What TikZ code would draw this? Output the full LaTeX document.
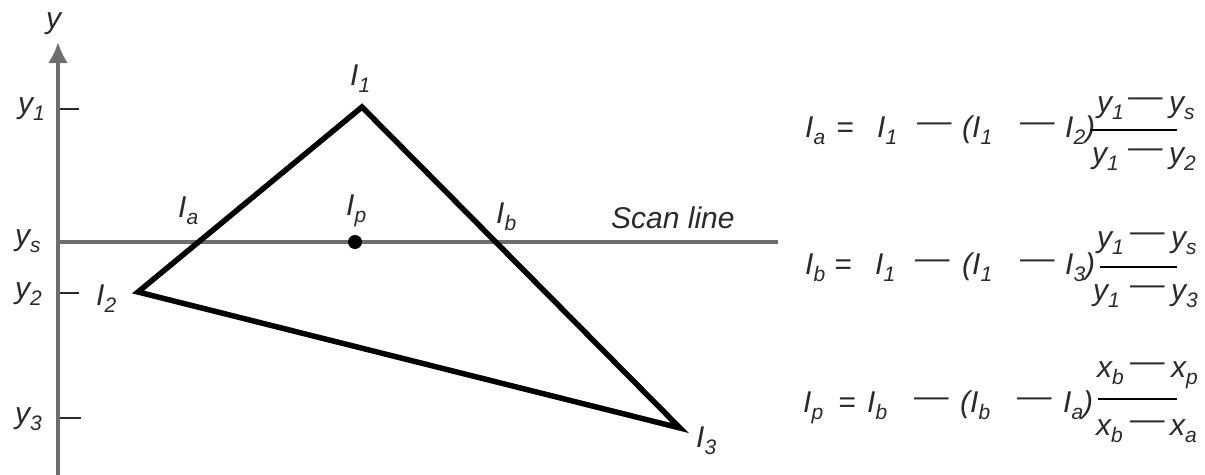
\documentclass[tikz,border=0pt]{standalone}
\usepackage{fontspec}
\setmainfont{Liberation Sans}
\usetikzlibrary{arrows.meta}
\definecolor{axgray}{HTML}{6E6E6E}
\definecolor{txt}{HTML}{2A2A2A}
\newcommand\sbs[1]{\raisebox{-7pt}{\fontsize{21}{21}\selectfont #1}}
\newcommand\md{\raisebox{6pt}{\scalebox{1.15}[1]{—}}}
\tikzset{
  lab/.style={font=\fontsize{30}{32}\selectfont\itshape, text=txt, inner sep=0pt, anchor=base west},
  axisline/.style={draw=axgray, line width=4.5pt},
  tick/.style={draw=txt, line width=2.6pt},
  tri/.style={draw=black, line width=5.5pt, line join=miter},
  fracline/.style={draw=black, line width=2.6pt}
}
\begin{document}
\begin{tikzpicture}[x=1pt,y=-1pt]
\path[use as bounding box] (0,0) rectangle (1205,474);
% axis
\coordinate (axb) at (58,480);
\coordinate (axt) at (58,42);
\draw[axisline, -{Latex[length=21pt,width=20pt]}] (axb) -- (axt);
\node[lab] (ylab) at (46,28) {y};
% ticks
\coordinate (t1a) at (60,109); \coordinate (t1b) at (79,109);
\coordinate (t2a) at (60,293); \coordinate (t2b) at (79,293);
\coordinate (t3a) at (60,418); \coordinate (t3b) at (81,418);
\draw[tick] (t1a) -- (t1b);
\draw[tick] (t2a) -- (t2b);
\draw[tick] (t3a) -- (t3b);
\node[lab] (ly1) at (18,113) {y\sbs{1}};
\node[lab] (lys) at (15,245) {y\sbs{s}};
\node[lab] (ly2) at (15,298) {y\sbs{2}};
\node[lab] (ly3) at (15,423) {y\sbs{3}};
% scan line
\coordinate (s0) at (58,242);
\coordinate (s1) at (778,242);
\draw[axisline] (s0) -- (s1);
\node[lab] (scan) at (611,228) {Scan line};
% triangle
\coordinate (v1) at (362,107);
\coordinate (v2) at (138,292);
\coordinate (v3) at (680,428);
\draw[tri] (v1) -- (v2) -- (v3) -- cycle;
\node[lab] (lI1) at (350,85) {I\sbs{1}};
\node[lab] (lI2) at (96,305) {I\sbs{2}};
\node[lab] (lI3) at (696,447) {I\sbs{3}};
\node[lab] (lIa) at (178,217) {I\sbs{a}};
\node[lab] (lIp) at (346,215) {I\sbs{p}};
\node[lab] (lIb) at (496,223) {I\sbs{b}};
\fill[black] (355,242) circle (7);
% formula a
\node[lab] (fa1) at (805,137) {I\sbs{a}};
\node[lab] (fa2) at (836,137) {=};
\node[lab] (fa3) at (877,137) {I\sbs{1}};
\node[lab] (fa4) at (917,137) {\md};
\node[lab] (fa5) at (962,137) {(I\sbs{1}};
\node[lab] (fa6) at (1020,137) {\md};
\node[lab] (fa7) at (1065,137) {I\sbs{2})};
\coordinate (fla) at (1090,130); \coordinate (flb) at (1177,130);
\draw[fracline] (fla) -- (flb);
\node[lab] (fa8) at (1097,112) {y\sbs{1}};
\node[lab] (fa9) at (1128,112) {\md};
\node[lab] (fa10) at (1169,112) {y\sbs{s}};
\node[lab] (fa11) at (1092,163) {y\sbs{1}};
\node[lab] (fa12) at (1128,163) {\md};
\node[lab] (fa13) at (1169,163) {y\sbs{2}};
% formula b
\node[lab] (fb1) at (805,274) {I\sbs{b}};
\node[lab] (fb2) at (834,274) {=};
\node[lab] (fb3) at (875,274) {I\sbs{1}};
\node[lab] (fb4) at (915,274) {\md};
\node[lab] (fb5) at (962,274) {(I\sbs{1}};
\node[lab] (fb6) at (1020,274) {\md};
\node[lab] (fb7) at (1065,274) {I\sbs{3})};
\coordinate (flc) at (1100,267); \coordinate (fld) at (1177,267);
\draw[fracline] (flc) -- (fld);
\node[lab] (fb8) at (1097,247) {y\sbs{1}};
\node[lab] (fb9) at (1130,247) {\md};
\node[lab] (fb10) at (1171,247) {y\sbs{s}};
\node[lab] (fb11) at (1093,300) {y\sbs{1}};
\node[lab] (fb12) at (1130,300) {\md};
\node[lab] (fb13) at (1171,300) {y\sbs{3}};
% formula p
\node[lab] (fp1) at (803,412) {I\sbs{p}};
\node[lab] (fp2) at (838,412) {=};
\node[lab] (fp3) at (867,412) {I\sbs{b}};
\node[lab] (fp4) at (914,412) {\md};
\node[lab] (fp5) at (960,412) {(I\sbs{b}};
\node[lab] (fp6) at (1017,412) {\md};
\node[lab] (fp7) at (1063,412) {I\sbs{a})};
\coordinate (fle) at (1098,399); \coordinate (flf) at (1177,399);
\draw[fracline] (fle) -- (flf);
\node[lab] (fp8) at (1097,377) {x\sbs{b}};
\node[lab] (fp9) at (1130,377) {\md};
\node[lab] (fp10) at (1171,377) {x\sbs{p}};
\node[lab] (fp11) at (1096,435) {x\sbs{b}};
\node[lab] (fp12) at (1130,435) {\md};
\node[lab] (fp13) at (1170,435) {x\sbs{a}};
\end{tikzpicture}
\end{document}
